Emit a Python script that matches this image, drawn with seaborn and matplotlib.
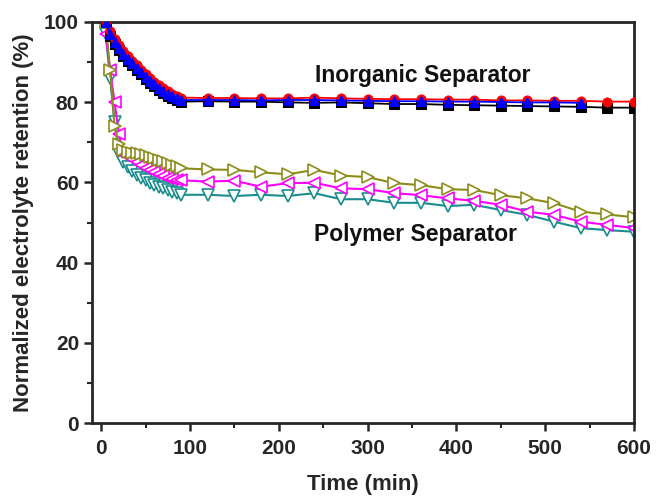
import numpy as np
import pandas as pd
import matplotlib
matplotlib.use("Agg")
import matplotlib.pyplot as plt
from matplotlib.ticker import MultipleLocator
import seaborn as sns

# ---- data ----
t_early = [5, 10, 15, 20, 25, 30, 35, 40, 45, 50, 55, 60, 65, 70, 75, 80, 85, 90]
t_late = [120, 150, 180, 210, 240, 270, 300, 330, 360, 390, 420, 450, 480, 510, 540, 570, 600]

blue_early = [100, 97, 95, 93.5, 92, 90.8, 89.7, 88.5, 87.4, 86.3, 85.3, 84.4, 83.6, 82.8, 82.1, 81.5, 81.0, 80.5]
red_early = [100, 97.6, 95.6, 94.1, 92.6, 91.4, 90.3, 89.1, 88.0, 86.9, 85.9, 85.0, 84.2, 83.4, 82.7, 82.1, 81.6, 81.1]
black_early = [100, 96.5, 94.5, 93.0, 91.5, 90.3, 89.2, 88.0, 86.9, 85.8, 84.8, 83.9, 83.1, 82.3, 81.6, 81.0, 80.5, 80.1]

red_late = [81.0, 81.0, 80.9, 80.9, 81.1, 80.9, 80.8, 80.7, 80.7, 80.6, 80.6, 80.4, 80.4, 80.3, 80.3, 80.1, 80.1]
blue_late = [80.5, 80.5, 80.4, 80.5, 80.5, 80.4, 80.3, 80.2, 80.2, 80.1, 80.1, 80.0, 79.9, 79.9, 79.8]
black_late = [80.2, 80.1, 80.1, 79.9, 79.8, 79.9, 79.7, 79.5, 79.5, 79.3, 79.2, 79.1, 79.0, 78.9, 78.8, 78.6, 78.6]

olive_early = [100, 88, 74, 69.5, 68, 67.6, 67.4, 67.2, 67.0, 66.7, 66.3, 66.0, 65.6, 65.2, 64.8, 64.4, 64.0, 63.5]
magenta_early = [97, 88, 80, 72, 67, 66.5, 65.7, 65.0, 64.3, 63.6, 63.0, 62.5, 62.0, 61.6, 61.2, 60.9, 60.7, 60.5]
teal_early = [97, 86, 75, 67, 65, 63.8, 62.8, 61.9, 61.1, 60.5, 59.9, 59.4, 58.9, 58.5, 58.1, 57.7, 57.3, 56.9]

olive_late = [63.2, 63.1, 62.5, 62.0, 63.1, 61.7, 61.3, 59.8, 59.3, 58.3, 58.1, 56.8, 56.0, 54.8, 52.7, 52.0, 51.3]
magenta_late = [60.2, 60.4, 58.9, 59.8, 59.9, 58.5, 58.3, 57.3, 56.8, 56.0, 55.4, 54.4, 52.7, 51.9, 50.2, 49.4, 48.6]
teal_late = [56.9, 56.6, 56.9, 56.6, 57.3, 55.8, 55.8, 54.9, 54.9, 54.1, 54.4, 53.1, 51.9, 50.2, 48.6, 48.1, 47.7]

x_ticks = [0, 100, 200, 300, 400, 500, 600]
y_ticks = [0, 20, 40, 60, 80, 100]

series = [
    ("black", black_early + black_late, "#000000", "s", True),
    ("red", red_early + red_late, "#FF0000", "o", True),
    ("blue", blue_early + blue_late, "#0000FF", "^", True),
    ("teal", teal_early + teal_late, "#1A8C8C", "v", False),
    ("magenta", magenta_early + magenta_late, "#FF00FF", "<", False),
    ("olive", olive_early + olive_late, "#8C8C1A", ">", False),
]

sns.set_style("ticks")
plt.rcParams['font.family'] = ['Liberation Sans', 'DejaVu Sans']
plt.rcParams['font.weight'] = 'bold'

fig = plt.figure(figsize=(6.57, 5.0), dpi=100)
ax = fig.add_axes([0.1405, 0.1534, 0.8245, 0.8032])

times = t_early + t_late
for name, vals, col, mk, filled in series:
    tt = times[:len(vals)]
    df = pd.DataFrame({"t": tt, "v": vals})
    if filled:
        sns.lineplot(data=df, x="t", y="v", ax=ax, color=col, marker=mk,
                     markersize=6.5, markeredgecolor=col, markerfacecolor=col,
                     linewidth=1.3, zorder=3)
    else:
        sns.lineplot(data=df, x="t", y="v", ax=ax, color=col, marker=mk,
                     markersize=8, markeredgecolor=col, markerfacecolor="white",
                     markeredgewidth=1.2, linewidth=1.5, zorder=2)

ax.set_xlim(-10, 600)
ax.set_ylim(0, 100)
ax.set_xticks(x_ticks)
ax.set_yticks(y_ticks)
ax.xaxis.set_minor_locator(MultipleLocator(50))
ax.yaxis.set_minor_locator(MultipleLocator(10))
ax.tick_params(which='major', direction='out', length=6, width=1.8, labelsize=15)
ax.tick_params(axis='x', which='major', pad=5)
ax.tick_params(which='minor', direction='out', length=3.5, width=1.5)
for lab in ax.get_xticklabels() + ax.get_yticklabels():
    lab.set_fontweight('bold')
for s in ax.spines.values():
    s.set_linewidth(2)
    s.set_visible(True)

ax.set_xlabel("Time (min)", fontsize=16, fontweight='bold', labelpad=12)
ax.set_ylabel("Normalized electrolyte retention (%)", fontsize=16, fontweight='bold', labelpad=7)

ax.text(362, 86.7, "Inorganic Separator", fontsize=16.5, fontweight='bold',
        ha='center', va='center', color='#111111')
ax.text(354, 47.0, "Polymer Separator", fontsize=16.5, fontweight='bold',
        ha='center', va='center', color='#111111')

fig.savefig("out.png", dpi=100)
